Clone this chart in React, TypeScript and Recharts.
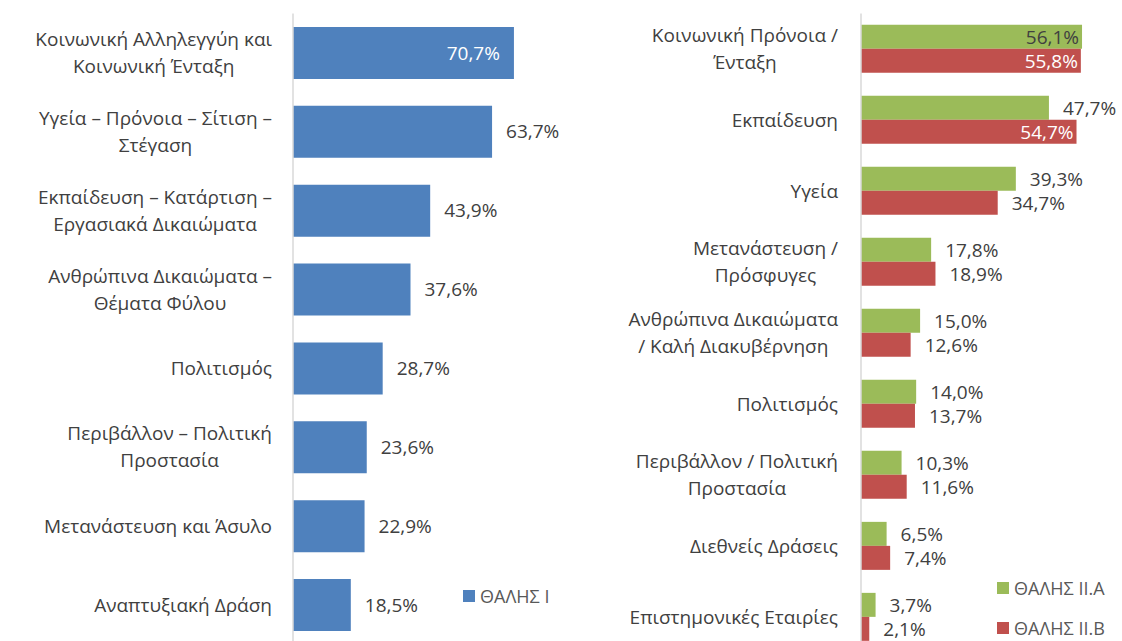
import React from "react";
import { BarChart, Bar, XAxis, YAxis, LabelList, Legend } from "recharts";

// Left panel: ΘΑΛΗΣ Ι
const leftCategories = [
  "Κοινωνική Αλληλεγγύη και\nΚοινωνική Ένταξη",
  "Υγεία – Πρόνοια – Σίτιση –\nΣτέγαση",
  "Εκπαίδευση – Κατάρτιση –\nΕργασιακά Δικαιώματα",
  "Ανθρώπινα Δικαιώματα –\nΘέματα Φύλου",
  "Πολιτισμός",
  "Περιβάλλον – Πολιτική\nΠροστασία",
  "Μετανάστευση και Άσυλο",
  "Αναπτυξιακή Δράση",
];
const thalisI = [70.7, 63.7, 43.9, 37.6, 28.7, 23.6, 22.9, 18.5];

// Right panel: ΘΑΛΗΣ ΙΙ.Α / ΙΙ.Β
const rightCategories = [
  "Κοινωνική Πρόνοια /\nΈνταξη",
  "Εκπαίδευση",
  "Υγεία",
  "Μετανάστευση /\nΠρόσφυγες",
  "Ανθρώπινα Δικαιώματα\n/ Καλή Διακυβέρνηση",
  "Πολιτισμός",
  "Περιβάλλον / Πολιτική\nΠροστασία",
  "Διεθνείς Δράσεις",
  "Επιστημονικές Εταιρίες",
];
const thalisIIA = [56.1, 47.7, 39.3, 17.8, 15.0, 14.0, 10.3, 6.5, 3.7];
const thalisIIB = [55.8, 54.7, 34.7, 18.9, 12.6, 13.7, 11.6, 7.4, 2.1];

const leftData = leftCategories.map((name, i) => ({ name, v: thalisI[i] }));
const rightData = rightCategories.map((name, i) => ({
  name,
  a: thalisIIA[i],
  b: thalisIIB[i],
}));

const FONT = '"Open Sans", sans-serif';
const FS = 19;
const TEXT = "#404040";
const BLUE = "#4F81BD";
const GREEN = "#9BBB59";
const RED = "#C0504D";

let ctx: CanvasRenderingContext2D | null = null;
function measure(s: string) {
  if (!ctx) ctx = document.createElement("canvas").getContext("2d");
  ctx!.font = `${FS}px "Open Sans"`;
  return ctx!.measureText(s).width;
}

const fmt = (v: number) => v.toFixed(1).replace(".", ",") + "%";

function CategoryTick(props: any) {
  const { y, payload, right } = props;
  const lines = String(payload.value).split("\n");
  const w = Math.max(...lines.map(measure));
  const cx = right - w / 2;
  const lh = 27;
  const y0 = y - ((lines.length - 1) * lh) / 2;
  return (
    <text textAnchor="middle" fill={TEXT} fontSize={FS} fontFamily={FONT}>
      {lines.map((l, i) => (
        <tspan key={i} x={cx} y={y0 + i * lh} dy="0.35em">
          {l}
        </tspan>
      ))}
    </text>
  );
}

function ValueLabel(props: any) {
  const { x, y, width, height, value, insideFill, threshold, insidePad } = props;
  const inside = value > threshold;
  const tx = inside ? x + width - insidePad : x + width + 14;
  return (
    <text
      x={tx}
      y={y + height / 2}
      dy="0.35em"
      textAnchor={inside ? "end" : "start"}
      fill={inside ? insideFill : TEXT}
      fontSize={FS}
      fontFamily={FONT}
    >
      {fmt(value)}
    </text>
  );
}

function LegendBox(props: any) {
  const { payload, gap } = props;
  return (
    <div style={{ fontFamily: FONT, fontSize: 18, color: "#595959", lineHeight: "24px" }}>
      {payload.map((p: any, i: number) => (
        <div
          key={i}
          style={{
            display: "flex",
            alignItems: "center",
            marginTop: i ? gap : 0,
            whiteSpace: "nowrap",
          }}
        >
          <span
            style={{
              display: "inline-block",
              width: 12,
              height: 12,
              background: p.color,
              marginRight: 5,
            }}
          />
          {p.value}
        </div>
      ))}
    </div>
  );
}

export default function App() {
  return (
    <div
      style={{
        position: "absolute",
        left: 0,
        top: 0,
        width: 1122,
        height: 641,
        overflow: "hidden",
        background: "#fff",
      }}
    >
      <div style={{ position: "absolute", left: 0, top: 0 }}>
        <BarChart
          width={600}
          height={660}
          data={leftData}
          layout="vertical"
          margin={{ top: 13.5, right: 57, bottom: 15.5, left: 0 }}
          barCategoryGap="17%"
        >
          <XAxis type="number" domain={[0, 80]} hide />
          <YAxis
            type="category"
            dataKey="name"
            width={293}
            axisLine={{ stroke: "#d9d9d9", strokeWidth: 1.5 }}
            tickLine={false}
            interval={0}
            tick={(p: any) => <CategoryTick {...p} right={272} />}
          />
          <Legend
            layout="vertical"
            align="center"
            verticalAlign="middle"
            wrapperStyle={{ position: "absolute", left: 463, top: 584, width: "auto" }}
            content={(p: any) => <LegendBox {...p} gap={0} />}
          />
          <Bar dataKey="v" name="ΘΑΛΗΣ Ι" fill={BLUE} isAnimationActive={false}>
            <LabelList
              dataKey="v"
              content={(p: any) => (
                <ValueLabel {...p} insideFill="#ffffff" insidePad={14} threshold={65} />
              )}
            />
          </Bar>
        </BarChart>
      </div>
      <div style={{ position: "absolute", left: 600, top: 0 }}>
        <BarChart
          width={522}
          height={670}
          data={rightData}
          layout="vertical"
          margin={{ top: 13.5, right: 24.6, bottom: 17.5, left: 0 }}
          barCategoryGap="16%"
          barGap={0}
        >
          <XAxis type="number" domain={[0, 60]} hide />
          <YAxis
            type="category"
            dataKey="name"
            width={261}
            axisLine={{ stroke: "#d9d9d9", strokeWidth: 1.5 }}
            tickLine={false}
            interval={0}
            tick={(p: any) => <CategoryTick {...p} right={238} />}
          />
          <Legend
            layout="vertical"
            align="center"
            verticalAlign="middle"
            wrapperStyle={{ position: "absolute", left: 397, top: 576, width: "auto" }}
            content={(p: any) => <LegendBox {...p} gap={16} />}
          />
          <Bar dataKey="a" name="ΘΑΛΗΣ ΙΙ.Α" fill={GREEN} isAnimationActive={false}>
            <LabelList
              dataKey="a"
              content={(p: any) => (
                <ValueLabel {...p} insideFill={TEXT} insidePad={3} threshold={50} />
              )}
            />
          </Bar>
          <Bar dataKey="b" name="ΘΑΛΗΣ ΙΙ.Β" fill={RED} isAnimationActive={false}>
            <LabelList
              dataKey="b"
              content={(p: any) => (
                <ValueLabel {...p} insideFill="#ffffff" insidePad={3} threshold={50} />
              )}
            />
          </Bar>
        </BarChart>
      </div>
    </div>
  );
}
